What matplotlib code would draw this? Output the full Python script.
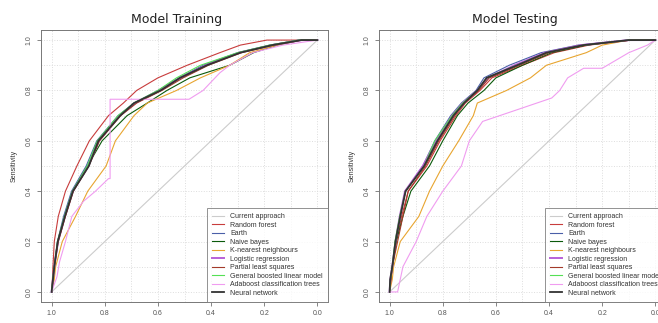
import matplotlib
matplotlib.use("Agg")
import matplotlib.pyplot as plt
from matplotlib.ticker import MultipleLocator

sens_grid = [0.0, 0.05, 0.1, 0.2, 0.3, 0.4, 0.5, 0.6, 0.7, 0.75, 0.8, 0.85, 0.9, 0.95, 0.98, 1.0, 1.0]

current_spec = [1.0, 0.0]
current_sens = [0.0, 1.0]

# training set (specificity at each sens_grid level)
train_rf = [1.0, .997, .995, .99, .975, .948, .905, .858, .786, .73, .68, .60, .49, .367, .29, .19, 0.0]
train_earth = [1.0, .995, .99, .978, .955, .925, .87, .83, .75, .69, .60, .52, .43, .30, .18, .07, 0.0]
train_nb = [1.0, .995, .99, .977, .95, .92, .865, .81, .716, .64, .566, .48, .33, .24, .15, .06, 0.0]
train_knn = [1.0, .99, .985, .96, .91, .864, .795, .76, .69, .64, .53, .44, .33, .255, .15, .06, 0.0]
train_glm = [1.0, .995, .99, .976, .95, .92, .862, .822, .745, .685, .595, .515, .42, .295, .17, .06, 0.0]
train_pls = [1.0, .995, .99, .975, .948, .918, .86, .82, .74, .68, .585, .505, .41, .285, .165, .06, 0.0]
train_gbm = [1.0, .996, .99, .978, .952, .922, .866, .828, .75, .69, .60, .53, .44, .30, .18, .07, 0.0]
train_nn = [1.0, .995, .99, .977, .95, .92, .86, .824, .742, .69, .59, .517, .416, .29, .17, .06, 0.0]
train_ada_spec = [1.0, .98, .97, .948, .924, .88, .835, .786, .78, .78, .483, .43, .367, .33, .243, .13, 0.0]
train_ada_sens = [0.0, .06, .12, .2, .3, .36, .4, .45, .45, .765, .765, .8, .87, .9, .95, .98, 1.0]

# testing set
test_rf = [1.0, .995, .99, .975, .955, .93, .86, .81, .75, .715, .66, .615, .50, .38, .25, .09, 0.0]
test_earth = [1.0, .997, .99, .978, .96, .94, .875, .83, .77, .73, .675, .645, .55, .43, .29, .10, 0.0]
test_nb = [1.0, .995, .99, .975, .95, .92, .85, .80, .745, .705, .645, .60, .50, .39, .26, .10, 0.0]
test_knn = [1.0, .99, .985, .96, .89, .85, .80, .74, .685, .67, .56, .47, .41, .26, .20, .10, 0.0]
test_glm = [1.0, .997, .99, .978, .962, .942, .875, .825, .765, .725, .67, .63, .53, .415, .28, .10, 0.0]
test_pls = [1.0, .995, .99, .97, .95, .93, .865, .815, .755, .72, .665, .625, .51, .40, .27, .09, 0.0]
test_gbm = [1.0, .997, .99, .98, .962, .94, .87, .83, .765, .725, .67, .635, .52, .41, .27, .10, 0.0]
test_nn = [1.0, .998, .99, .978, .96, .94, .87, .82, .76, .72, .67, .635, .52, .41, .27, .10, 0.0]
test_ada_spec = [1.0, .97, .96, .95, .90, .86, .80, .73, .70, .65, .39, .36, .33, .27, .20, .10, .03, 0.0]
test_ada_sens = [0.0, 0.0, .05, .1, .2, .3, .4, .5, .6, .677, .77, .8, .85, .888, .888, .95, .98, 1.0]

labels = ["Current approach", "Random forest", "Earth", "Naive bayes", "K-nearest neighbours",
          "Logistic regression", "Partial least squares", "General boosted linear model",
          "Adaboost classification trees", "Neural network"]
colors = ["#cccccc", "#c83c3c", "#4a5fa8", "#0b5a0b", "#e8a530", "#b860d8",
          "#a33a2a", "#55e055", "#f09cf0", "#333333"]
widths = [0.8, 0.8, 0.8, 0.8, 0.8, 1.4, 0.8, 0.8, 0.8, 1.3]

plt.rcParams['font.family'] = ['Liberation Sans', 'DejaVu Sans']

fig = plt.figure(figsize=(6.58, 3.23), dpi=100)
W, H = 658, 323

def draw(ax, curves, title, tx):
    for (x, y), lab, c, lw in zip(curves, labels, colors, widths):
        ax.plot(x, y, color=c, lw=lw, label=lab)
    ax.set_xlim(1.04, -0.04)
    ax.set_ylim(-0.04, 1.04)
    ax.xaxis.set_major_locator(MultipleLocator(0.2))
    ax.yaxis.set_major_locator(MultipleLocator(0.2))
    ax.xaxis.set_minor_locator(MultipleLocator(0.1))
    ax.yaxis.set_minor_locator(MultipleLocator(0.1))
    ax.grid(True, which='both', color='#dddddd', linestyle=':', linewidth=0.7)
    ax.tick_params(which='major', labelsize=5, length=3, width=0.5, colors='#555555', pad=3)
    ax.tick_params(which='minor', length=0)
    for lbl in ax.get_yticklabels():
        lbl.set_rotation(90)
        lbl.set_va('center')
    for s in ax.spines.values():
        s.set_color('#777777')
        s.set_linewidth(0.7)
    ax.set_ylabel('Sensitivity', fontsize=5, color='#333333', labelpad=6)
    ax.set_xlabel('Specificity', fontsize=5, color='#333333', labelpad=5)
    leg = ax.legend(loc='lower right', fontsize=5, frameon=True, fancybox=False,
                    borderaxespad=0, handlelength=1.7, labelspacing=0.22,
                    borderpad=0.75, handletextpad=0.85)
    leg.get_frame().set_edgecolor('#777777')
    leg.get_frame().set_linewidth(0.7)
    for t in leg.get_texts():
        t.set_color('#333333')
    fig.text(tx / W, 1 - 19 / H, title, ha='center', va='center', fontsize=9,
             family='DejaVu Sans', color='#222222')

pos_b = (H - 302) / H
ht = (302 - 30) / H
ax1 = fig.add_axes([41 / W, pos_b, 287 / W, ht])
ax2 = fig.add_axes([379 / W, pos_b, 287 / W, ht])

train_curves = [(current_spec, current_sens), (train_rf, sens_grid), (train_earth, sens_grid),
                (train_nb, sens_grid), (train_knn, sens_grid), (train_glm, sens_grid),
                (train_pls, sens_grid), (train_gbm, sens_grid), (train_ada_spec, train_ada_sens),
                (train_nn, sens_grid)]
test_curves = [(current_spec, current_sens), (test_rf, sens_grid), (test_earth, sens_grid),
               (test_nb, sens_grid), (test_knn, sens_grid), (test_glm, sens_grid),
               (test_pls, sens_grid), (test_gbm, sens_grid), (test_ada_spec, test_ada_sens),
               (test_nn, sens_grid)]

draw(ax1, train_curves, 'Model Training', 177)
draw(ax2, test_curves, 'Model Testing', 515)

fig.savefig('out.png', dpi=100)
